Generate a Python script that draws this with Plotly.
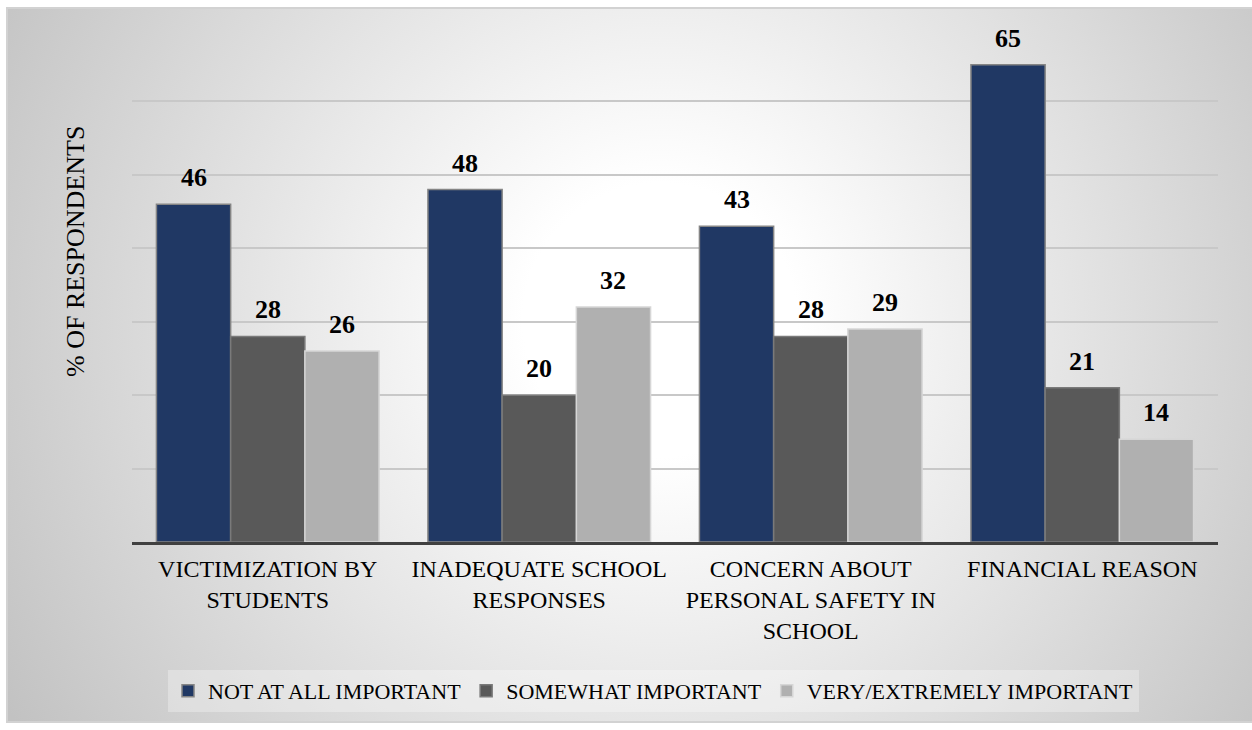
import base64
import plotly.graph_objects as go

# ---- data ----
categories = [
    "VICTIMIZATION BY<br>STUDENTS",
    "INADEQUATE SCHOOL<br>RESPONSES",
    "CONCERN ABOUT<br>PERSONAL SAFETY IN<br>SCHOOL",
    "FINANCIAL REASON",
]
series_names = ["NOT AT ALL IMPORTANT", "SOMEWHAT IMPORTANT", "VERY/EXTREMELY IMPORTANT"]
not_at_all = [46, 48, 43, 65]
somewhat = [28, 20, 28, 21]
very_extremely = [26, 32, 29, 14]
y_title = "% OF RESPONDENTS"

series_values = [not_at_all, somewhat, very_extremely]
colors = ["#203864", "#595959", "#b0b0b0"]
outline = ["#858585", "#7a7a7a", "#d6d6d6"]

SERIF = "Liberation Serif"

W, H = 1252, 730
ML, MR, MT, MB = 132, 34, 28, 188
PW, PH = W - ML - MR, H - MT - MB
BARGAP = 0.18

fig = go.Figure()
for name, vals, c, oc in zip(series_names, series_values, colors, outline):
    fig.add_trace(go.Bar(
        x=categories, y=vals, name=name,
        marker=dict(color=c, line=dict(color=oc, width=1.5)),
        hoverinfo="skip",
    ))

# data labels
bw = (1 - BARGAP) / 3
ann = []
for j, vals in enumerate(series_values):
    off = (j - 1) * bw
    for i, v in enumerate(vals):
        ann.append(dict(
            x=i + off, y=v, xref="x", yref="y", text=f"<b>{v}</b>",
            showarrow=False, xanchor="center", yanchor="bottom", yshift=10,
            font=dict(family=SERIF, size=26, color="black"),
        ))

# y axis title
ann.append(dict(
    x=(75 - ML) / PW, y=(MT + PH - 252) / PH, xref="paper", yref="paper",
    xanchor="center", yanchor="middle",
    text=y_title, textangle=-90, showarrow=False,
    font=dict(family=SERIF, size=26, color="black"),
))

# background gradient frame (svg)
fx0, fy0, fx1, fy1 = 6, 7, 1262, 723
fw, fh = fx1 - fx0, fy1 - fy0
cx, cy = 660 - fx0, 320 - fy0
svg = f'''<svg xmlns="http://www.w3.org/2000/svg" width="{fw}" height="{fh}" viewBox="0 0 {fw} {fh}" preserveAspectRatio="none">
<defs><radialGradient id="g" gradientUnits="userSpaceOnUse" cx="{cx}" cy="{cy}" r="760">
<stop offset="0" stop-color="#ffffff"/><stop offset="0.18" stop-color="#ffffff"/>
<stop offset="1" stop-color="#c2c2c2"/></radialGradient></defs>
<rect x="0" y="0" width="{fw}" height="{fh}" fill="url(#g)"/>
<rect x="1" y="1" width="{fw-2}" height="{fh-2}" fill="none" stroke="#d2d2d2" stroke-width="2"/>
</svg>'''
src = "data:image/svg+xml;base64," + base64.b64encode(svg.encode()).decode()

fig.update_layout(
    width=W, height=H, autosize=False,
    margin=dict(l=ML, r=MR, t=MT, b=MB, pad=0),
    paper_bgcolor="white", plot_bgcolor="rgba(0,0,0,0)",
    barmode="group", bargap=BARGAP, bargroupgap=0,
    font=dict(family=SERIF, color="black"),
    images=[dict(
        source=src, xref="paper", yref="paper",
        x=(fx0 - ML) / PW, y=(MT + PH - fy0) / PH,
        sizex=fw / PW, sizey=fh / PH, sizing="stretch",
        xanchor="left", yanchor="top", layer="below",
    )],
    xaxis=dict(
        showline=True, linecolor="#404040", linewidth=3, ticks="",
        tickfont=dict(family=SERIF, size=24, color="black"),
        ticklabelstandoff=3,
        showgrid=False, zeroline=False,
    ),
    yaxis=dict(
        range=[0, 70], dtick=10, showticklabels=False, ticks="",
        showgrid=True, gridcolor="#c8c8c8", gridwidth=1.5,
        zeroline=False, showline=False,
    ),
    legend=dict(
        orientation="h", x=(168 - ML) / PW, xanchor="left",
        y=(MT + PH - 670) / PH, yanchor="top",
        bgcolor="rgba(255,255,255,0.3)",
        font=dict(family=SERIF, size=22, color="black"),
        itemwidth=30, traceorder="normal",
    ),
    annotations=ann,
    showlegend=True,
)

fig.write_html("out.html")
